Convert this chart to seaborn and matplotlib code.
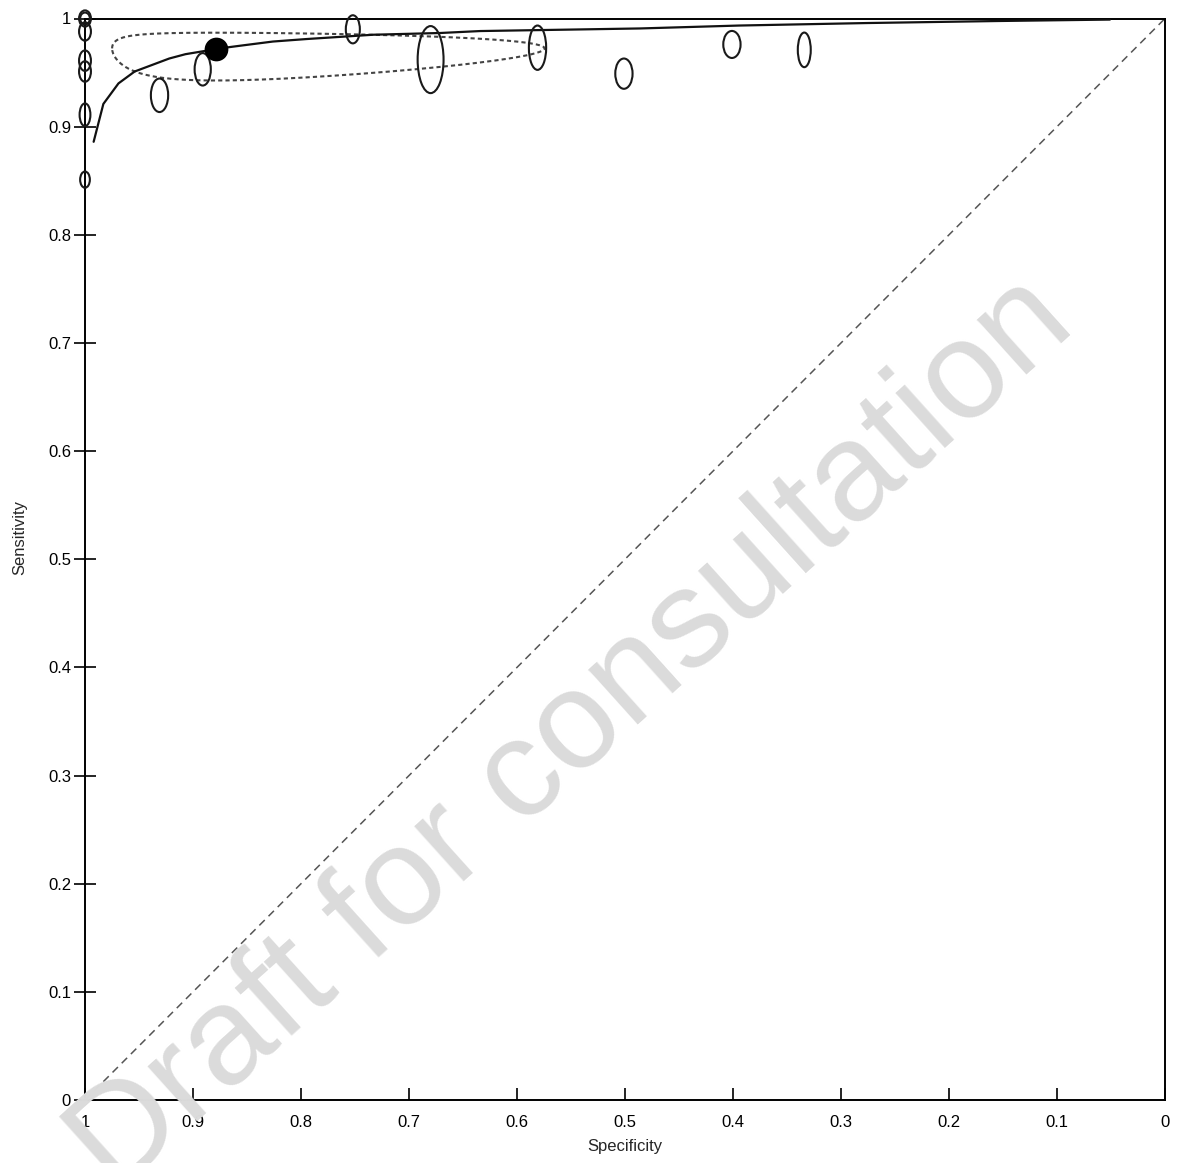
import numpy as np
import pandas as pd
import matplotlib
matplotlib.use("Agg")
import matplotlib.pyplot as plt
from matplotlib.patches import Ellipse
import seaborn as sns

# ---------------- data ----------------
# individual studies: specificity, sensitivity, ellipse width/height (axis units, ~study size)
study_spec = [1.0, 1.0, 1.0, 1.0, 1.0, 1.0, 1.0,
              0.931, 0.891, 0.752, 0.680, 0.581, 0.501, 0.401, 0.334]
study_sens = [1.0, 1.0, 0.988, 0.961, 0.951, 0.911, 0.851,
              0.929, 0.953, 0.990, 0.962, 0.973, 0.949, 0.976, 0.971]
study_w = [0.011, 0.009, 0.011, 0.011, 0.011, 0.010, 0.009,
           0.016, 0.015, 0.013, 0.024, 0.016, 0.016, 0.016, 0.012]
study_h = [0.015, 0.011, 0.017, 0.019, 0.019, 0.021, 0.015,
           0.031, 0.030, 0.026, 0.062, 0.041, 0.028, 0.025, 0.032]

# summary operating point
summary_spec = [0.879]
summary_sens = [0.972]

# SROC curve
sroc_spec = [0.992, 0.983, 0.969, 0.954, 0.938, 0.922, 0.907, 0.889, 0.878,
             0.855, 0.826, 0.795, 0.764, 0.733, 0.671, 0.634, 0.486, 0.394,
             0.276, 0.153, 0.051]
sroc_sens = [0.886, 0.921, 0.940, 0.951, 0.957, 0.963, 0.967, 0.970, 0.972,
             0.975, 0.9787, 0.981, 0.983, 0.985, 0.9866, 0.9884, 0.9908, 0.9935,
             0.9958, 0.9977, 0.999]

# 95% confidence region: ellipse in logit space (centre, semi-axes)
conf_center_logit = (1.98, 3.56)   # (logit spec, logit sens)
conf_semi_axes = (1.68, 0.76)

ticks = [0, 0.1, 0.2, 0.3, 0.4, 0.5, 0.6, 0.7, 0.8, 0.9, 1.0]
tick_labels = ["0", "0.1", "0.2", "0.3", "0.4", "0.5", "0.6", "0.7", "0.8", "0.9", "1"]

# ---------------- figure ----------------
sns.set_style("white")
plt.rcParams["font.family"] = ["Liberation Sans", "DejaVu Sans"]

W, H = 1177, 1163
fig = plt.figure(figsize=(W / 100, H / 100), dpi=100)
left, right, bottom, top = 85 / W, 1165 / W, 1 - 1100 / H, 1 - 18.5 / H
ax = fig.add_axes([left, bottom, right - left, top - bottom])
ax.set_facecolor("none")

# watermark
fig.text(0.486, 0.368, "Draft for consultation", rotation=42, rotation_mode="anchor",
         ha="center", va="center", fontsize=101, color="#dbdbdb", zorder=0)

# diagonal reference line
ax.plot([1, 0], [0, 1], linestyle=(0, (5, 3.5)), color="#555555", lw=1.1, zorder=2)

# confidence region
t = np.linspace(0, 2 * np.pi, 400)
ls = conf_center_logit[0] + conf_semi_axes[0] * np.cos(t)
lse = conf_center_logit[1] + conf_semi_axes[1] * np.sin(t)
cr = pd.DataFrame({"spec": 1 / (1 + np.exp(-ls)), "sens": 1 / (1 + np.exp(-lse))})
ax.plot(cr["spec"], cr["sens"], linestyle=(0, (2.0, 1.5)), color="#444444", lw=1.5, zorder=3)

# SROC curve
sroc = pd.DataFrame({"spec": sroc_spec, "sens": sroc_sens})
sns.lineplot(data=sroc, x="spec", y="sens", sort=False, color="#111111", lw=1.6,
             ax=ax, zorder=4, estimator=None)

# study ellipses
for sp, se, w, h in zip(study_spec, study_sens, study_w, study_h):
    ax.add_patch(Ellipse((sp, se), w, h, fill=False, edgecolor="#1a1a1a", lw=1.5,
                         zorder=5, clip_on=False))

# summary point
summ = pd.DataFrame({"spec": summary_spec, "sens": summary_sens})
sns.scatterplot(data=summ, x="spec", y="sens", s=250, color="black", edgecolor="black",
                ax=ax, zorder=6, legend=False, clip_on=False)

ax.set_xlim(1, 0)
ax.set_ylim(0, 1)
ax.set_xticks(ticks)
ax.set_xticklabels(tick_labels)
ax.set_yticks(ticks)
ax.set_yticklabels(tick_labels)
ax.tick_params(axis="x", bottom=True, direction="in", length=9, width=1.2,
               labelsize=12, pad=11, colors="black")
ax.tick_params(axis="y", left=True, direction="inout", length=16, width=1.2,
               labelsize=12, pad=2, colors="black")
for s in ax.spines.values():
    s.set_visible(True)
    s.set_color("black")
    s.set_linewidth(1.4)
ax.set_xlabel("Specificity", fontsize=12)
ax.set_ylabel("Sensitivity", fontsize=12)
ax.xaxis.set_label_coords(0.5, -0.036)
ax.yaxis.set_label_coords(-0.053, 0.52)

fig.savefig("out.png", dpi=100)
